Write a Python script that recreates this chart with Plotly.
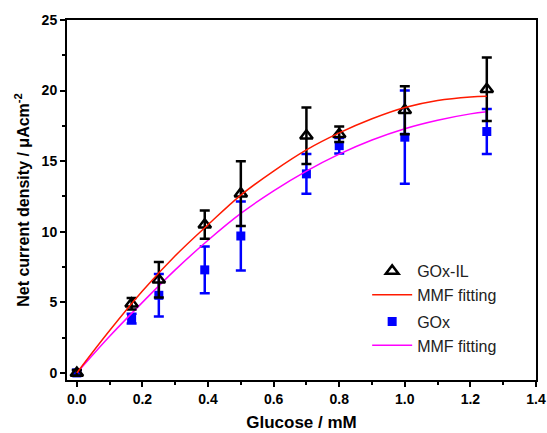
import plotly.graph_objects as go

# Data
glucose = [0.0, 0.167, 0.25, 0.39, 0.5, 0.7, 0.8, 1.0, 1.25]
goxil = [0.0, 4.9, 6.6, 10.5, 12.7, 16.8, 16.9, 18.6, 20.1]
goxil_err = [0.2, 0.4, 1.25, 1.0, 2.3, 2.0, 0.55, 1.7, 2.25]
gox = [0.0, 3.85, 5.5, 7.3, 9.7, 14.1, 16.1, 16.7, 17.1]
gox_err = [0.2, 0.35, 1.5, 1.65, 2.45, 1.4, 0.55, 3.3, 1.6]

fit_x = [0.0, 0.1, 0.2, 0.3, 0.4, 0.5, 0.6, 0.7, 0.8, 0.9, 1.0, 1.1, 1.2, 1.25]
fit_goxil = [0.0, 3.0, 5.8, 8.3, 10.5, 12.6, 14.3, 15.8, 17.0, 18.0, 18.8, 19.3, 19.55, 19.6]
fit_gox = [0.0, 2.6, 5.0, 7.3, 9.4, 11.3, 12.9, 14.3, 15.5, 16.5, 17.3, 17.9, 18.35, 18.5]

fig = go.Figure()

fig.add_trace(go.Scatter(
    x=glucose, y=gox, mode="markers", name="GOx",
    marker=dict(symbol="square", size=9, color="#0000ff"),
    error_y=dict(type="data", array=gox_err, color="#0000ff", thickness=2.5, width=5),
    legendgroup="b", legendrank=3,
))
fig.add_trace(go.Scatter(
    x=fit_x, y=fit_gox, mode="lines", name="MMF fitting",
    line=dict(color="#ff00ff", width=1.5, shape="spline"),
    legendgroup="b", legendrank=4,
))
fig.add_trace(go.Scatter(
    x=glucose, y=goxil, mode="markers", name="GOx-IL",
    marker=dict(symbol="triangle-up-open", size=11, color="black", line=dict(width=2.5, color="black")),
    error_y=dict(type="data", array=goxil_err, color="black", thickness=2.5, width=5),
    legendgroup="a", legendrank=1,
))
fig.add_trace(go.Scatter(
    x=fit_x, y=fit_goxil, mode="lines", name="MMF fitting",
    line=dict(color="#ff1a00", width=1.5, shape="spline"),
    legendgroup="a", legendrank=2,
))

FONT = "Arial, Liberation Sans, sans-serif"

fig.update_layout(
    width=547, height=433,
    margin=dict(l=67, r=11, t=20, b=53),
    plot_bgcolor="white", paper_bgcolor="white",
    font=dict(family=FONT, color="black"),
    legend=dict(
        x=0.64, y=0.35, xanchor="left", yanchor="top",
        bgcolor="rgba(0,0,0,0)", font=dict(family=FONT, size=16, color="#222"),
        traceorder="grouped", tracegroupgap=3, itemwidth=40,
    ),
    xaxis=dict(
        range=[-0.03, 1.4], tickvals=[0, 0.2, 0.4, 0.6, 0.8, 1.0, 1.2, 1.4],
        ticktext=["0.0", "0.2", "0.4", "0.6", "0.8", "1.0", "1.2", "1.4"],
        showline=True, linecolor="black", linewidth=2, mirror=True,
        ticks="outside", ticklen=5, tickwidth=2, tickcolor="black",
        minor=dict(dtick=0.1, tick0=0, ticks="outside", ticklen=3, tickwidth=2, tickcolor="black"),
        showgrid=False, zeroline=False, automargin=False,
        tickfont=dict(family=FONT, size=14, color="black", weight="bold"),
        title=dict(text="<b>Glucose / mM</b>", font=dict(family=FONT, size=17, color="black"), standoff=10),
    ),
    yaxis=dict(
        range=[-0.5, 25], tickvals=[0, 5, 10, 15, 20, 25],
        showline=True, linecolor="black", linewidth=2, mirror=True,
        ticks="outside", ticklen=5, tickwidth=2, tickcolor="black",
        minor=dict(dtick=2.5, tick0=0, ticks="outside", ticklen=3, tickwidth=2, tickcolor="black"),
        showgrid=False, zeroline=False, automargin=False,
        tickfont=dict(family=FONT, size=14, color="black", weight="bold"),
        title=dict(text="<b>Net current density / μAcm<sup>-2</sup></b>", font=dict(family=FONT, size=16, color="black"), standoff=8),
    ),
)

fig.write_html("out.html")
